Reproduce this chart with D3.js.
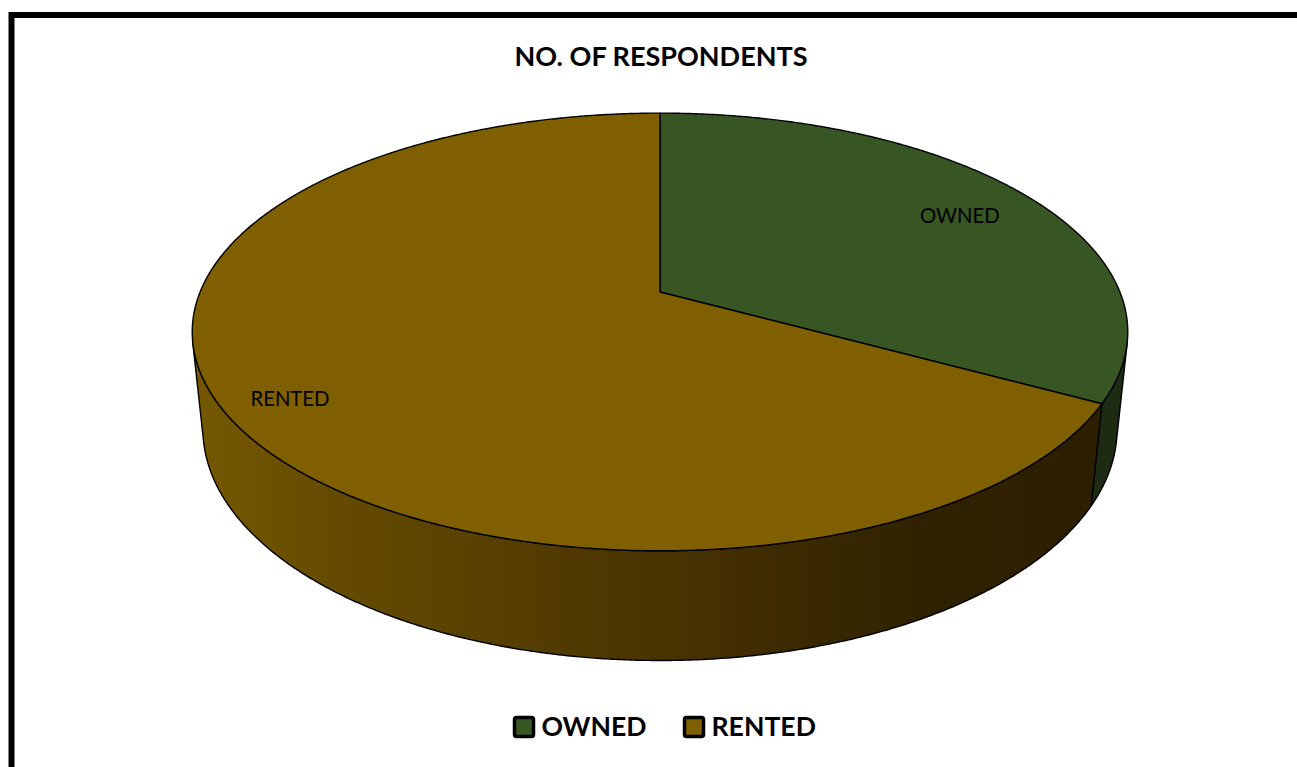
<!DOCTYPE html>
<html>
<head>
<meta charset="utf-8">
<script src="https://cdn.jsdelivr.net/npm/d3@7/dist/d3.min.js"></script>
<style>
  html, body { margin: 0; padding: 0; background: #ffffff; }
  svg { display: block; }
  text { font-family: Lato, "Open Sans", sans-serif; }
</style>
</head>
<body>
<svg id="chart" width="1297" height="767"></svg>
<script>
// ---- data ----
const title = "NO. OF RESPONDENTS";
const categories = ["OWNED", "RENTED"];
const values = [33, 67];
const topColors = ["#375623", "#7f5f00"];
const sideColors = ["#1c2b12", "#4b3500"];

// ---- layout / projection ----
const W = 1297, H = 767;
const svg = d3.select("#chart");
const cx = 660, cy = 292;
const F = 2237, D = 4.864, sinP = 0.46, cosP = 0.888, depthH = 0.24;

function project(theta, r, yLevel) {
  const X = r * Math.sin(theta);
  const Z = -r * Math.cos(theta);
  const Y = yLevel;
  const dep = D - (Y * sinP + Z * cosP);
  return [cx + F * X / dep, cy - F * (Y * cosP - Z * sinP) / dep];
}

// frame
svg.append("rect")
  .attr("x", 11.5).attr("y", 15)
  .attr("width", W + 20).attr("height", H + 20)
  .attr("fill", "none").attr("stroke", "#000").attr("stroke-width", 6);

// title
svg.append("text")
  .attr("x", 661).attr("y", 66)
  .attr("text-anchor", "middle")
  .attr("font-weight", "bold").attr("font-size", 27)
  .attr("fill", "#000")
  .text(title);

const pie = d3.pie().sort(null).startAngle(0).endAngle(2 * Math.PI);
const arcs = pie(values);

// gradient for the rented side wall
const defs = svg.append("defs");
const grad = defs.append("linearGradient")
  .attr("id", "sideGrad")
  .attr("gradientUnits", "userSpaceOnUse")
  .attr("x1", 195).attr("y1", 0).attr("x2", 1100).attr("y2", 0);
grad.append("stop").attr("offset", 0).attr("stop-color", "#755800");
grad.append("stop").attr("offset", 0.15).attr("stop-color", "#654b00");
grad.append("stop").attr("offset", 0.5).attr("stop-color", "#4a3400");
grad.append("stop").attr("offset", 0.8).attr("stop-color", "#302200");
grad.append("stop").attr("offset", 1).attr("stop-color", "#2c1f00");

// visible wall range (silhouette)
const sil = Math.acos(-1 / (D * cosP));
const visLo = sil, visHi = 2 * Math.PI - sil;
const line = d3.line();

function arcPoints(a0, a1, level, n) {
  const pts = [];
  for (let i = 0; i <= n; i++) {
    const t = a0 + (a1 - a0) * i / n;
    pts.push(project(t, 1, level));
  }
  return pts;
}

// side walls
arcs.forEach((d, i) => {
  const lo = Math.max(d.startAngle, visLo);
  const hi = Math.min(d.endAngle, visHi);
  if (hi <= lo) return;
  const n = Math.max(8, Math.ceil((hi - lo) * 180));
  const topPts = arcPoints(lo, hi, 0, n);
  const botPts = arcPoints(hi, lo, -depthH, n);
  svg.append("path")
    .attr("d", line(topPts.concat(botPts)) + "Z")
    .attr("fill", i === 1 ? "url(#sideGrad)" : sideColors[i])
    .attr("stroke", "#000").attr("stroke-width", 1.4)
    .attr("stroke-linejoin", "round");
});

// top faces
arcs.forEach((d, i) => {
  const n = Math.ceil((d.endAngle - d.startAngle) * 180);
  const pts = [project(0, 0, 0)].concat(arcPoints(d.startAngle, d.endAngle, 0, n));
  svg.append("path")
    .attr("d", line(pts) + "Z")
    .attr("fill", topColors[i])
    .attr("stroke", "#000").attr("stroke-width", 1.4)
    .attr("stroke-linejoin", "round");
});

// data labels (best-fit style placement inside slices)
arcs.forEach((d, i) => {
  const mid = (d.startAngle + d.endAngle) / 2;
  const rr = d.endAngle - d.startAngle > Math.PI ? 0.86 : 0.815;
  const p = project(mid, rr, 0);
  svg.append("text")
    .attr("x", p[0]).attr("y", p[1] + 13)
    .attr("text-anchor", "middle")
    .attr("font-size", 20.3)
    .attr("fill", "#000")
    .text(categories[i]);
});

// legend
const legendX = [513, 683];
categories.forEach((c, i) => {
  const g = svg.append("g").attr("transform", `translate(${legendX[i]},716)`);
  g.append("rect")
    .attr("x", 1.5).attr("y", 1.5).attr("width", 19).attr("height", 19)
    .attr("rx", 2)
    .attr("fill", topColors[i]).attr("stroke", "#000").attr("stroke-width", 3.5);
  g.append("text")
    .attr("x", 28.5).attr("y", 19.5)
    .attr("font-weight", "bold").attr("font-size", 26.6)
    .attr("fill", "#000")
    .text(c);
});
</script>
</body>
</html>
